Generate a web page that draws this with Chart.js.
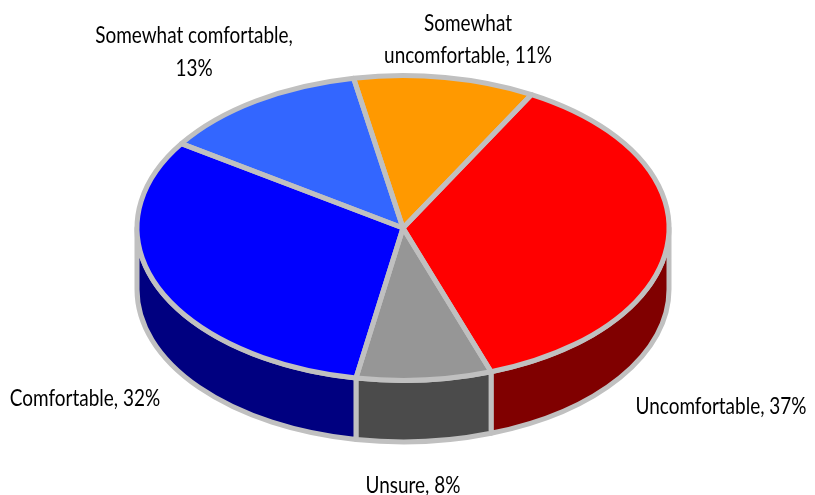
<!DOCTYPE html>
<html>
<head>
<meta charset="utf-8">
<script src="https://cdn.jsdelivr.net/npm/chart.js@4"></script>
<style>
  html, body { margin: 0; padding: 0; background: #fff; }
  canvas { display: block; }
</style>
</head>
<body>
<canvas id="myChart" width="815" height="495"></canvas>
<script>
const categories = ['Uncomfortable', 'Unsure', 'Comfortable', 'Somewhat comfortable', 'Somewhat uncomfortable'];
// slice sizes, the labels show them rounded
const values = [36.6, 8.2, 31.5, 12.7, 11.0];
const sliceColors = ['#ff0000', '#969696', '#0000ff', '#3366ff', '#ff9900'];
const sideColors = ['#800000', '#4b4b4b', '#000080', '#1a3380', '#804c00'];

// ellipse of the top face + how deep the side wall is
const CX = 403, CY = 228, RX = 266, RY = 152.4, DEPTH = 61.5;
const EDGE = '#c0c0c0', EDGE_W = 5;

// no condensed font installed, so squeeze Lato sideways
const LABEL_SQUEEZE = 0.79;

// center x, first baseline, words on first line
const labelSpots = [
  { x: 721, y: 414, lineHeight: 0, split: 9 },
  { x: 413, y: 493, lineHeight: 0, split: 9 },
  { x: 85, y: 406, lineHeight: 0, split: 9 },
  { x: 194, y: 43, lineHeight: 33, split: 2 },
  { x: 468, y: 31, lineHeight: 32, split: 1 }
];

function drawSides(ctx, arcs) {
  ctx.lineWidth = EDGE_W;
  ctx.strokeStyle = EDGE;
  ctx.lineJoin = 'round';
  arcs.forEach((arc, i) => {
    // only the part facing us (canvas angles 0..PI), also try one turn later for wrap-around
    [0, Math.PI * 2].forEach(turn => {
      const a = Math.max(arc.startAngle, turn);
      const b = Math.min(arc.endAngle, turn + Math.PI);
      if (b <= a) return;
      ctx.beginPath();
      ctx.ellipse(CX, CY, RX, RY, 0, a, b);
      ctx.ellipse(CX, CY + DEPTH, RX, RY, 0, b, a, true);
      ctx.closePath();
      ctx.fillStyle = sideColors[i];
      ctx.fill();
      ctx.stroke();
    });
  });
}

function drawLabelLine(ctx, text, x, y) {
  ctx.save();
  ctx.translate(x, y);
  ctx.scale(LABEL_SQUEEZE, 1);
  ctx.fillText(text, 0, 0);
  ctx.restore();
}

const pie3d = {
  id: 'pie3d',
  beforeDatasetsDraw(chart) {
    const ctx = chart.ctx;
    const arcs = chart.getDatasetMeta(0).data;
    drawSides(ctx, arcs);
    // squash the round pie into the top face
    const arc = arcs[0];
    ctx.save();
    ctx.translate(CX, CY);
    ctx.scale(RX / arc.outerRadius, RY / arc.outerRadius);
    ctx.translate(-arc.x, -arc.y);
  },
  afterDatasetsDraw(chart) {
    const ctx = chart.ctx;
    ctx.restore();
    ctx.lineWidth = EDGE_W;
    ctx.strokeStyle = EDGE;
    ctx.lineJoin = 'round';
    chart.getDatasetMeta(0).data.forEach(arc => {
      ctx.beginPath();
      ctx.moveTo(CX, CY);
      ctx.ellipse(CX, CY, RX, RY, 0, arc.startAngle, arc.endAngle);
      ctx.closePath();
      ctx.stroke();
    });
  },
  afterDraw(chart) {
    const ctx = chart.ctx;
    ctx.save();
    ctx.font = '24px Lato';
    ctx.fillStyle = '#000';
    ctx.textAlign = 'center';
    categories.forEach((cat, i) => {
      const spot = labelSpots[i];
      const words = (cat + ', ' + Math.round(values[i]) + '%').split(' ');
      drawLabelLine(ctx, words.slice(0, spot.split).join(' '), spot.x, spot.y);
      if (words.length > spot.split) {
        drawLabelLine(ctx, words.slice(spot.split).join(' '), spot.x, spot.y + spot.lineHeight);
      }
    });
    ctx.restore();
  }
};

new Chart(document.getElementById('myChart'), {
  type: 'pie',
  data: {
    labels: categories,
    datasets: [{
      data: values,
      backgroundColor: sliceColors,
      borderWidth: 0,
      clip: false
    }]
  },
  options: {
    responsive: false,
    animation: false,
    rotation: 28.9,
    plugins: {
      legend: { display: false },
      tooltip: { enabled: false }
    }
  },
  plugins: [pie3d]
});
</script>
</body>
</html>
